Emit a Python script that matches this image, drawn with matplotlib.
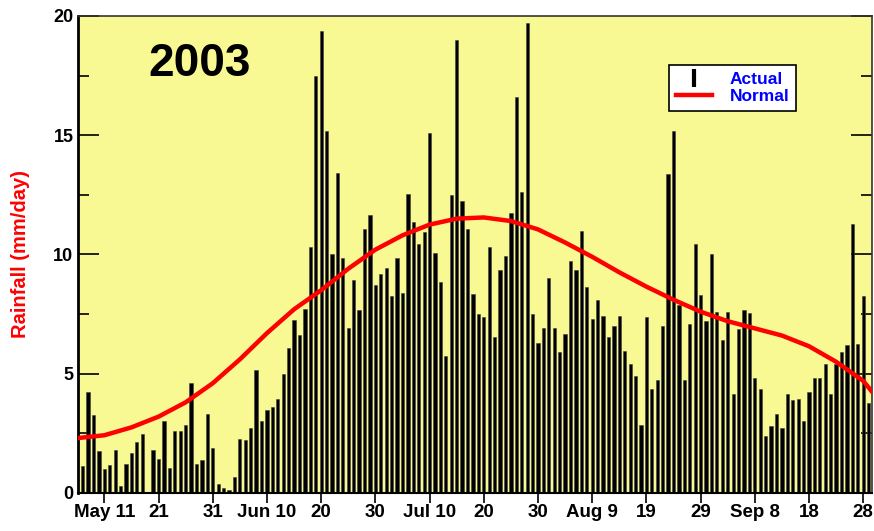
import matplotlib.pyplot as plt
from matplotlib.lines import Line2D

# daily rainfall, 7 May .. 29 Sep 2003 (mm/day)
actual = [
    1.12, 4.23, 3.28, 1.76, 0.99, 1.17, 1.82, 0.29, 1.23, 1.68,
    2.14, 2.49, 0.06, 1.82, 1.44, 3.02, 1.05, 2.59, 2.59, 2.87,
    4.61, 1.23, 1.37, 3.30, 1.87, 0.39, 0.22, 0.11, 0.67, 2.26,
    2.21, 2.74, 5.14, 3.02, 3.47, 3.61, 3.94, 4.98, 6.07, 7.24,
    6.61, 7.73, 10.31, 17.47, 19.37, 15.16, 10.03, 13.42, 9.87, 6.93,
    8.94, 7.66, 11.08, 11.67, 8.73, 9.17, 9.45, 8.25, 9.83, 8.40,
    12.55, 11.36, 10.43, 10.92, 15.11, 10.08, 8.85, 5.73, 12.48, 18.98,
    12.23, 11.07, 8.36, 7.49, 7.38, 10.31, 6.54, 9.34, 9.92, 11.74,
    16.60, 12.61, 19.71, 7.49, 6.29, 6.93, 9.01, 6.93, 5.93, 6.65,
    9.71, 9.34, 10.99, 8.64, 7.31, 8.08, 7.42, 6.54, 6.99, 7.42,
    5.95, 5.42, 4.92, 2.85, 7.38, 4.37, 4.75, 6.99, 13.38, 15.16,
    7.87, 4.72, 7.07, 10.43, 8.32, 7.21, 10.01, 7.59, 6.40, 7.59,
    4.16, 6.89, 7.66, 7.55, 4.82, 4.35, 2.38, 2.81, 3.33, 2.73,
    4.16, 3.91, 3.93, 3.02, 4.22, 4.82, 4.82, 5.42, 4.16, 5.42,
    5.91, 6.19, 11.29, 6.23, 8.25, 3.77,
]
days = list(range(len(actual)))  # 0 = 7 May

# normal rainfall read every 5 days (day index, mm/day)
normal_day = [-1, 4, 9, 14, 19, 24, 29, 34, 39, 44, 49, 54, 59, 64, 69, 74,
              79, 84, 89, 94, 99, 104, 109, 114, 119, 124, 129, 134, 139, 144, 145.6]
normal_val = [2.30, 2.42, 2.75, 3.2, 3.8, 4.6, 5.6, 6.7, 7.7, 8.5, 9.4, 10.2,
              10.8, 11.25, 11.5, 11.55, 11.4, 11.05, 10.5, 9.9, 9.25, 8.65,
              8.1, 7.6, 7.2, 6.9, 6.6, 6.15, 5.5, 4.7, 4.25]

tick_days = [4, 14, 24, 34, 44, 54, 64, 74, 84, 94, 104, 114, 124, 134, 144]
tick_labels = ['May 11', '21', '31', 'Jun 10', '20', '30', 'Jul 10', '20', '30',
               'Aug 9', '19', '29', 'Sep 8', '18', '28']

plt.rcParams['font.family'] = ['Liberation Sans', 'DejaVu Sans']

fig = plt.figure(figsize=(8.74, 5.31), dpi=100)
ax = fig.add_axes([0.0896, 0.0716, 0.908, 0.8985])
ax.set_facecolor('#f9f994')

ax.bar(days, actual, width=0.6, color='black', edgecolor='#444444', linewidth=0.4, zorder=2)
ax.plot(normal_day, normal_val, color='red', lw=3.2, zorder=3)

ax.set_xlim(-0.8, 145.6)
ax.set_ylim(0, 20)
ax.set_xticks(tick_days)
ax.set_xticklabels(tick_labels, fontsize=13.5, fontweight='bold')
ax.tick_params(axis='x', direction='out', length=7, width=1.2, pad=1)
ax.set_yticks([0, 5, 10, 15, 20])
ax.set_yticks([2.5, 7.5, 12.5, 17.5], minor=True)
ax.tick_params(axis='y', which='major', direction='in', length=15, width=1.2,
               labelsize=13, right=True)
ax.tick_params(axis='y', which='minor', direction='in', length=8, width=1.2, right=True)
for lab in ax.get_yticklabels():
    lab.set_fontweight('bold')

ax.spines['left'].set_linewidth(2)
ax.spines['bottom'].set_linewidth(1.5)
for s in ['top', 'right']:
    ax.spines[s].set_linewidth(1.2)
    ax.spines[s].set_color('#333333')

ax.set_ylabel('Rainfall (mm/day)', color='red', fontsize=14.5, fontweight='bold', labelpad=17)

ax.text(0.088, 0.945, '2003', transform=ax.transAxes, fontsize=33, fontweight='bold',
        va='top', ha='left')

handles = [Line2D([], [], color='black', marker='|', linestyle='none', markersize=13, mew=3),
           Line2D([], [], color='red', lw=3.2)]
leg = ax.legend(handles, ['Actual', 'Normal'], loc='upper left', bbox_to_anchor=(0.733, 0.916),
                frameon=True, fancybox=False, edgecolor='black', framealpha=1,
                facecolor='white', borderpad=0.4, labelspacing=0.15, handlelength=2.1,
                handletextpad=1.0, prop={'weight': 'bold', 'size': 12.5})
leg.get_frame().set_linewidth(1.2)
for t in leg.get_texts():
    t.set_color('blue')

fig.savefig('out.png', dpi=100)
